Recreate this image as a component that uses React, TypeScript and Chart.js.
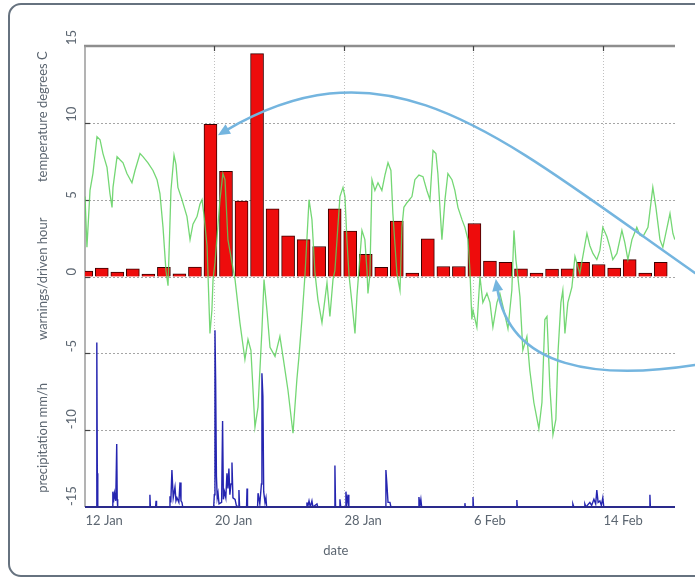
import React, { useEffect, useRef } from 'react';
import { Chart, registerables } from 'chart.js';

Chart.register(...registerables);

// ---- data ----
const barLabels = [
  '12 Jan', '13 Jan', '14 Jan', '15 Jan', '16 Jan', '17 Jan', '18 Jan', '19 Jan', '20 Jan', '21 Jan',
  '22 Jan', '23 Jan', '24 Jan', '25 Jan', '26 Jan', '27 Jan', '28 Jan', '29 Jan', '30 Jan', '31 Jan',
  '1 Feb', '2 Feb', '3 Feb', '4 Feb', '5 Feb', '6 Feb', '7 Feb', '8 Feb', '9 Feb', '10 Feb',
  '11 Feb', '12 Feb', '13 Feb', '14 Feb', '15 Feb', '16 Feb', '17 Feb', '18 Feb',
];
const warnings = [
  0.35, 0.55, 0.28, 0.5, 0.15, 0.6, 0.18, 0.62, 9.9, 6.85,
  4.9, 14.5, 4.4, 2.65, 2.4, 1.95, 4.4, 2.95, 1.45, 0.6,
  3.6, 0.22, 2.45, 0.65, 0.65, 3.45, 1.0, 0.92, 0.5, 0.22,
  0.48, 0.5, 0.92, 0.78, 0.55, 1.1, 0.22, 0.92,
];

// temperature: days since 12 Jan, degrees C
const tempDays = [
  0, 0.12, 0.31, 0.49, 0.74, 0.93, 1.11, 1.36, 1.54, 1.67, 1.73, 1.98, 2.16, 2.35, 2.59, 2.9, 3.09, 3.4, 3.58, 3.89,
  4.2, 4.45, 4.63, 4.82, 5.0, 5.13, 5.31, 5.5, 5.62, 5.74, 5.99, 6.3, 6.49, 6.67, 6.92, 7.1, 7.23, 7.35, 7.54, 7.6,
  7.72, 7.84, 7.91, 8.03, 8.34, 8.52, 8.65, 8.83, 9.08, 9.27, 9.57, 9.88, 10.07, 10.25, 10.5, 10.69, 10.93, 11.06, 11.24, 11.43,
  11.74, 12.04, 12.23, 12.54, 12.85, 13.09, 13.22, 13.4, 13.59, 13.84, 14.02, 14.21, 14.39, 14.64, 14.82, 14.95, 15.13, 15.32, 15.44, 15.75,
  15.94, 16.06, 16.18, 16.31, 16.49, 16.68, 16.8, 16.92, 17.11, 17.29, 17.42, 17.48, 17.6, 17.73, 17.91, 18.1, 18.34, 18.53, 18.72, 18.9,
  19.02, 19.27, 19.46, 19.58, 19.7, 19.89, 20.2, 20.38, 20.63, 20.88, 21.12, 21.31, 21.5, 21.68, 21.8, 22.05, 22.24, 22.42, 22.67, 22.85,
  23.04, 23.29, 23.47, 23.66, 23.78, 23.9, 23.97, 24.21, 24.4, 24.58, 24.83, 25.02, 25.2, 25.45, 25.63, 25.88, 26.13, 26.37, 26.5, 26.62,
  26.74, 26.87, 27.05, 27.3, 27.48, 27.73, 28.04, 28.23, 28.41, 28.54, 28.72, 28.91, 29.09, 29.22, 29.4, 29.52, 29.65, 29.83, 30.08, 30.27,
  30.57, 31.01, 31.19, 31.38, 31.62, 31.81, 31.99, 32.24, 32.43, 32.61, 32.86, 33.17, 33.35, 33.54, 33.79, 34.09, 34.28, 34.47, 34.78, 35.08,
  35.27, 35.52, 35.7, 36.14, 36.32, 36.44,
];
const tempValues = [
  5.2, 1.9, 5.6, 6.7, 9.1, 8.9, 8.0, 7.1, 5.4, 4.5, 5.8, 7.8, 7.6, 7.4, 6.7, 6.1, 6.9, 8.0, 7.8, 7.4,
  6.9, 6.3, 5.4, 3.2, 0.4, -0.6, 5.6, 7.9, 7.3, 5.8, 5.0, 3.9, 2.4, 3.4, 3.9, 4.7, 5.0, 4.0, 2.0, 0.1,
  -3.7, -2.2, -0.2, 0.9, 5.0, 6.7, 6.3, 2.4, 0.9, -0.2, -3.0, -5.4, -4.1, -4.8, -9.8, -8.5, -3.5, -0.2, -2.2, -4.6,
  -5.2, -3.9, -5.2, -7.4, -10.2, -6.7, -5.2, -2.8, 0.1, 5.0, 3.7, 0.2, -1.5, -3.0, -1.5, -0.4, -2.6, -0.2, 0.4, 5.2,
  5.8, 5.2, 2.4, 0.1, -1.7, -3.7, -1.3, 0.4, 3.0, 2.4, 0.4, -1.1, 0.1, 6.3, 5.6, 6.1, 5.6, 6.6, 7.4, 6.9,
  4.1, 0.2, -0.9, 3.2, 4.5, 4.8, 5.2, 6.3, 6.6, 6.5, 5.6, 5.0, 8.2, 8.0, 6.7, 2.4, 5.0, 6.7, 6.3, 5.6,
  4.5, 3.7, 3.2, 2.4, 0.4, -2.8, -2.2, -3.3, 0.0, -1.7, -1.1, -1.7, -3.3, -1.7, -1.1, -2.2, -3.4, -0.9, 3.0, 1.1,
  0.0, -1.3, -4.8, -3.9, -6.1, -8.2, -9.9, -8.2, -2.8, -2.6, -7.2, -10.3, -9.3, -5.0, -1.7, -0.9, -3.7, -1.7, -0.7, 1.3,
  0.2, 2.8, 2.0, 1.5, 1.1, 1.7, 3.2, 2.6, 1.9, 1.1, 1.5, 3.0, 2.2, 1.1, 2.4, 3.2, 2.7, 2.6, 3.2, 5.8,
  4.5, 2.4, 1.9, 4.1, 2.8, 2.4,
];

// precipitation: days since 12 Jan, mm/h (drawn above the -15 baseline)
const precipBaseline = -15;
const precipDays = [
  0, 0.7, 0.72, 0.74, 0.76, 0.78, 0.8, 1.68, 1.72, 1.76, 1.82, 1.9, 1.96, 1.99, 2.02,
  3.98, 4.01, 4.04, 4.36, 4.39, 4.42,
  5.2, 5.25, 5.3, 5.37, 5.45, 5.56, 5.62, 5.68, 5.8, 5.87, 5.93, 5.99, 6.04,
  7.95, 7.99, 8.03, 8.07, 8.12, 8.17, 8.22, 8.28, 8.44, 8.5, 8.55, 8.62, 8.7, 8.77, 8.83, 8.89, 8.95, 9.02, 9.08, 9.14,
  9.27, 9.35, 9.48, 9.51, 9.55, 9.98, 10.01, 10.04, 10.66, 10.69, 10.8, 10.9, 10.93, 10.99, 11.04, 11.12, 11.18, 11.22,
  13.68, 13.71, 13.76, 13.84, 13.92, 14.02, 14.08, 14.33, 14.38,
  15.4, 15.44, 15.48, 15.72, 15.75, 15.8, 16.08, 16.12, 16.18, 16.25, 16.3,
  18.55, 18.59, 18.65, 18.72, 18.84, 18.9, 20.6, 20.63, 20.69, 20.75, 20.8,
  23.44, 23.47, 23.5, 23.94, 23.97, 24.0, 26.65, 26.68, 26.71,
  30.1, 30.14, 30.2, 30.85, 30.88, 30.95, 31.19, 31.3, 31.44, 31.55, 31.62, 31.7, 31.81, 31.9, 31.99, 32.05,
  34.87, 34.9, 34.93, 36.45,
];
const precipValues = [
  0, 0, 2.3, 10.7, 2.2, 0.8, 0, 0, 1.0, 0.3, 0.9, 0.4, 4.1, 0.5, 0,
  0, 0.8, 0, 0, 0.4, 0,
  0, 0.7, 0.3, 2.4, 0.6, 1.3, 0.4, 0.6, 0.3, 1.6, 0.4, 0.3, 0,
  0, 0.8, 11.5, 8.3, 2.0, 0.6, 0.9, 0.2, 0.3, 5.6, 0.5, 1.0, 0.6, 2.2, 1.2, 2.5, 0.8, 1.5, 2.9, 0.6,
  0.5, 0.1, 0, 1.1, 0, 0, 1.2, 0, 0, 0.9, 0.2, 1.5, 8.7, 7.2, 1.0, 0.3, 0.6, 0,
  0, 0.3, 0, 0.4, 0, 0.4, 0, 0.2, 0,
  0, 2.7, 0, 0, 0.5, 0, 0, 1.0, 0.2, 0.8, 0,
  0, 2.4, 1.5, 0.3, 0.3, 0, 0, 0.65, 0.1, 0.5, 0,
  0, 0.25, 0, 0, 0.65, 0, 0, 0.45, 0,
  0, 0.2, 0, 0, 0.2, 0, 0.3, 0.1, 0.5, 0.2, 1.1, 0.3, 0.4, 0.1, 0.6, 0,
  0, 0.8, 0, 0,
];

// axis ticks and labels
const xMinDay = 0;
const xMaxDay = 36.45;
const xTickDays = [0, 8, 16, 24, 32];
const xTickLabels = ['12 Jan', '20 Jan', '28 Jan', '6 Feb', '14 Feb'];
const xTitle = 'date';
const xTitleDay = 15.5;
const yTicks = [-15, -10, -5, 0, 5, 10, 15];
const yTitles = ['temperature degrees C', 'warnings/driven hour', 'precipitation mm/h'];
const yTitleCenters = [10.4, -0.15, -10.5];

// annotation arrows (day, value) : start, control 1, control 2, tip
const arrowPaths = [
  [[37.68, 0.23], [25.32, 9.34], [18.83, 15.71], [8.21, 9.2]],
  [[37.68, -5.76], [31.8, -6.73], [26.25, -6.08], [25.38, -0.16]],
];

const FONT = 'Lato, "Open Sans", "DejaVu Sans", sans-serif';
const TEXT = '#5c6671';

const decoPlugin = {
  id: 'deco',
  beforeDatasetsDraw(chart: any) {
    const { ctx, chartArea: a } = chart;
    const xs = chart.scales.x;
    const ys = chart.scales.y;
    ctx.save();
    // horizontal grid
    ctx.lineWidth = 1;
    ctx.strokeStyle = 'rgba(135,135,135,0.75)';
    ctx.setLineDash([2, 2]);
    yTicks.forEach((v) => {
      if (v === -15 || v === 15) return;
      const py = Math.round(ys.getPixelForValue(v)) + 0.5;
      ctx.beginPath();
      ctx.moveTo(a.left, py);
      ctx.lineTo(a.right, py);
      ctx.stroke();
    });
    // vertical grid
    ctx.strokeStyle = 'rgba(150,150,150,0.6)';
    ctx.setLineDash([1, 2]);
    xTickDays.forEach((d) => {
      if (d === xMinDay) return;
      const px = Math.round(xs.getPixelForValue(d)) + 0.5;
      ctx.beginPath();
      ctx.moveTo(px, a.top);
      ctx.lineTo(px, a.bottom);
      ctx.stroke();
    });
    ctx.setLineDash([]);
    // borders
    ctx.strokeStyle = '#8e8e8e';
    ctx.lineWidth = 2.5;
    ctx.beginPath();
    ctx.moveTo(a.left - 1, a.top);
    ctx.lineTo(a.right, a.top);
    ctx.stroke();
    ctx.lineWidth = 1.5;
    ctx.strokeStyle = '#9a9a9a';
    ctx.beginPath();
    ctx.moveTo(a.left, a.top);
    ctx.lineTo(a.left, a.bottom);
    ctx.stroke();
    // inner tick marks
    ctx.strokeStyle = '#444';
    ctx.lineWidth = 1.2;
    xTickDays.forEach((d) => {
      if (d === xMinDay) return;
      const px = Math.round(xs.getPixelForValue(d)) + 0.5;
      ctx.beginPath();
      ctx.moveTo(px, a.top);
      ctx.lineTo(px, a.top + 5);
      ctx.stroke();
    });
    yTicks.forEach((v) => {
      if (v === -15 || v === 15) return;
      const py = Math.round(ys.getPixelForValue(v)) + 0.5;
      ctx.beginPath();
      ctx.moveTo(a.left, py);
      ctx.lineTo(a.left + 5, py);
      ctx.stroke();
    });
    ctx.restore();
  },
  afterDatasetsDraw(chart: any) {
    const { ctx, chartArea: a } = chart;
    ctx.save();
    ctx.strokeStyle = '#2a2a8c';
    ctx.lineWidth = 2;
    ctx.beginPath();
    ctx.moveTo(a.left, a.bottom);
    ctx.lineTo(a.right, a.bottom);
    ctx.stroke();
    ctx.restore();
  },
  afterDraw(chart: any) {
    const { ctx, chartArea: a } = chart;
    const xs = chart.scales.x;
    const ys = chart.scales.y;
    ctx.save();
    ctx.fillStyle = TEXT;
    ctx.font = `13px ${FONT}`;
    // y tick labels (rotated)
    yTicks.forEach((v) => {
      const py = ys.getPixelForValue(v);
      ctx.save();
      ctx.translate(a.left - 13, py - 1);
      ctx.rotate(-Math.PI / 2);
      ctx.textAlign = 'left';
      ctx.textBaseline = 'middle';
      ctx.fillText(String(v), 0, 0);
      ctx.restore();
    });
    // y titles
    yTitles.forEach((t, i) => {
      const py = ys.getPixelForValue(yTitleCenters[i]);
      ctx.save();
      ctx.translate(a.left - 42, py);
      ctx.rotate(-Math.PI / 2);
      ctx.textAlign = 'center';
      ctx.textBaseline = 'middle';
      ctx.fillText(t, 0, 0);
      ctx.restore();
    });
    // x tick labels
    ctx.textAlign = 'left';
    ctx.textBaseline = 'middle';
    xTickDays.forEach((d, i) => {
      const px = xs.getPixelForValue(d);
      ctx.fillText(xTickLabels[i], px + 0.5, a.bottom + 14);
    });
    ctx.textAlign = 'center';
    ctx.fillText(xTitle, xs.getPixelForValue(xTitleDay), a.bottom + 44);

    // arrows
    ctx.strokeStyle = '#74b5df';
    ctx.fillStyle = '#74b5df';
    ctx.lineWidth = 2.5;
    ctx.lineCap = 'round';
    arrowPaths.forEach((path) => {
      const p = path.map(([d, v]) => [xs.getPixelForValue(d), ys.getPixelForValue(v)]);
      const [p0, p1, p2, p3] = p;
      let dx = p3[0] - p2[0];
      let dy = p3[1] - p2[1];
      const len = Math.hypot(dx, dy) || 1;
      dx /= len;
      dy /= len;
      const headLen = 12;
      const headW = 5.5;
      const bx = p3[0] - dx * headLen * 0.8;
      const by = p3[1] - dy * headLen * 0.8;
      ctx.beginPath();
      ctx.moveTo(p0[0], p0[1]);
      ctx.bezierCurveTo(p1[0], p1[1], p2[0], p2[1], bx, by);
      ctx.stroke();
      const hx = p3[0] - dx * headLen;
      const hy = p3[1] - dy * headLen;
      ctx.beginPath();
      ctx.moveTo(p3[0], p3[1]);
      ctx.lineTo(hx - dy * headW, hy + dx * headW);
      ctx.lineTo(hx + dy * headW, hy - dx * headW);
      ctx.closePath();
      ctx.fill();
    });
    ctx.restore();
  },
};

export default function App() {
  const ref = useRef<HTMLCanvasElement | null>(null);

  useEffect(() => {
    if (!ref.current) return;
    const chart = new Chart(ref.current, {
      type: 'bar',
      data: {
        labels: barLabels,
        datasets: [
          {
            type: 'bar',
            label: 'warnings/driven hour',
            data: warnings,
            xAxisID: 'xb',
            yAxisID: 'y',
            backgroundColor: '#ee0c0c',
            borderColor: '#3a0000',
            borderWidth: 1,
            barThickness: 13,
            order: 3,
          } as any,
          {
            type: 'line',
            label: 'temperature degrees C',
            data: tempDays.map((d, i) => ({ x: d, y: tempValues[i] })),
            xAxisID: 'x',
            yAxisID: 'y',
            borderColor: 'rgba(92,208,92,0.85)',
            borderWidth: 1.3,
            pointRadius: 0,
            tension: 0,
            order: 2,
          } as any,
          {
            type: 'line',
            label: 'precipitation mm/h',
            data: precipDays.map((d, i) => ({ x: d, y: precipBaseline + precipValues[i] })),
            xAxisID: 'x',
            yAxisID: 'y',
            borderColor: '#2525b0',
            borderWidth: 1.4,
            pointRadius: 0,
            tension: 0,
            order: 1,
          } as any,
        ],
      },
      options: {
        responsive: false,
        animation: false,
        layout: { padding: { left: 85, right: 20, top: 46, bottom: 71 } },
        plugins: { legend: { display: false }, tooltip: { enabled: false } },
        scales: {
          x: { type: 'linear', min: xMinDay, max: xMaxDay, display: false, offset: false, grid: { offset: false } },
          xb: { type: 'category', display: false, offset: true },
          y: { type: 'linear', min: -15, max: 15, display: false },
        },
      } as any,
      plugins: [decoPlugin],
    });
    return () => chart.destroy();
  }, []);

  return (
    <div
      style={{
        position: 'fixed',
        left: 0,
        top: 0,
        width: 695,
        height: 578,
        background: '#fff',
        overflow: 'hidden',
      }}
    >
      <div
        style={{
          position: 'absolute',
          left: 8,
          top: 3,
          width: 740,
          height: 574,
          boxSizing: 'border-box',
          border: '2.5px solid #66727f',
          borderRadius: 13,
        }}
      />
      <canvas
        ref={ref}
        width={695}
        height={578}
        style={{ position: 'absolute', left: 0, top: 0, width: 695, height: 578 }}
      />
    </div>
  );
}
